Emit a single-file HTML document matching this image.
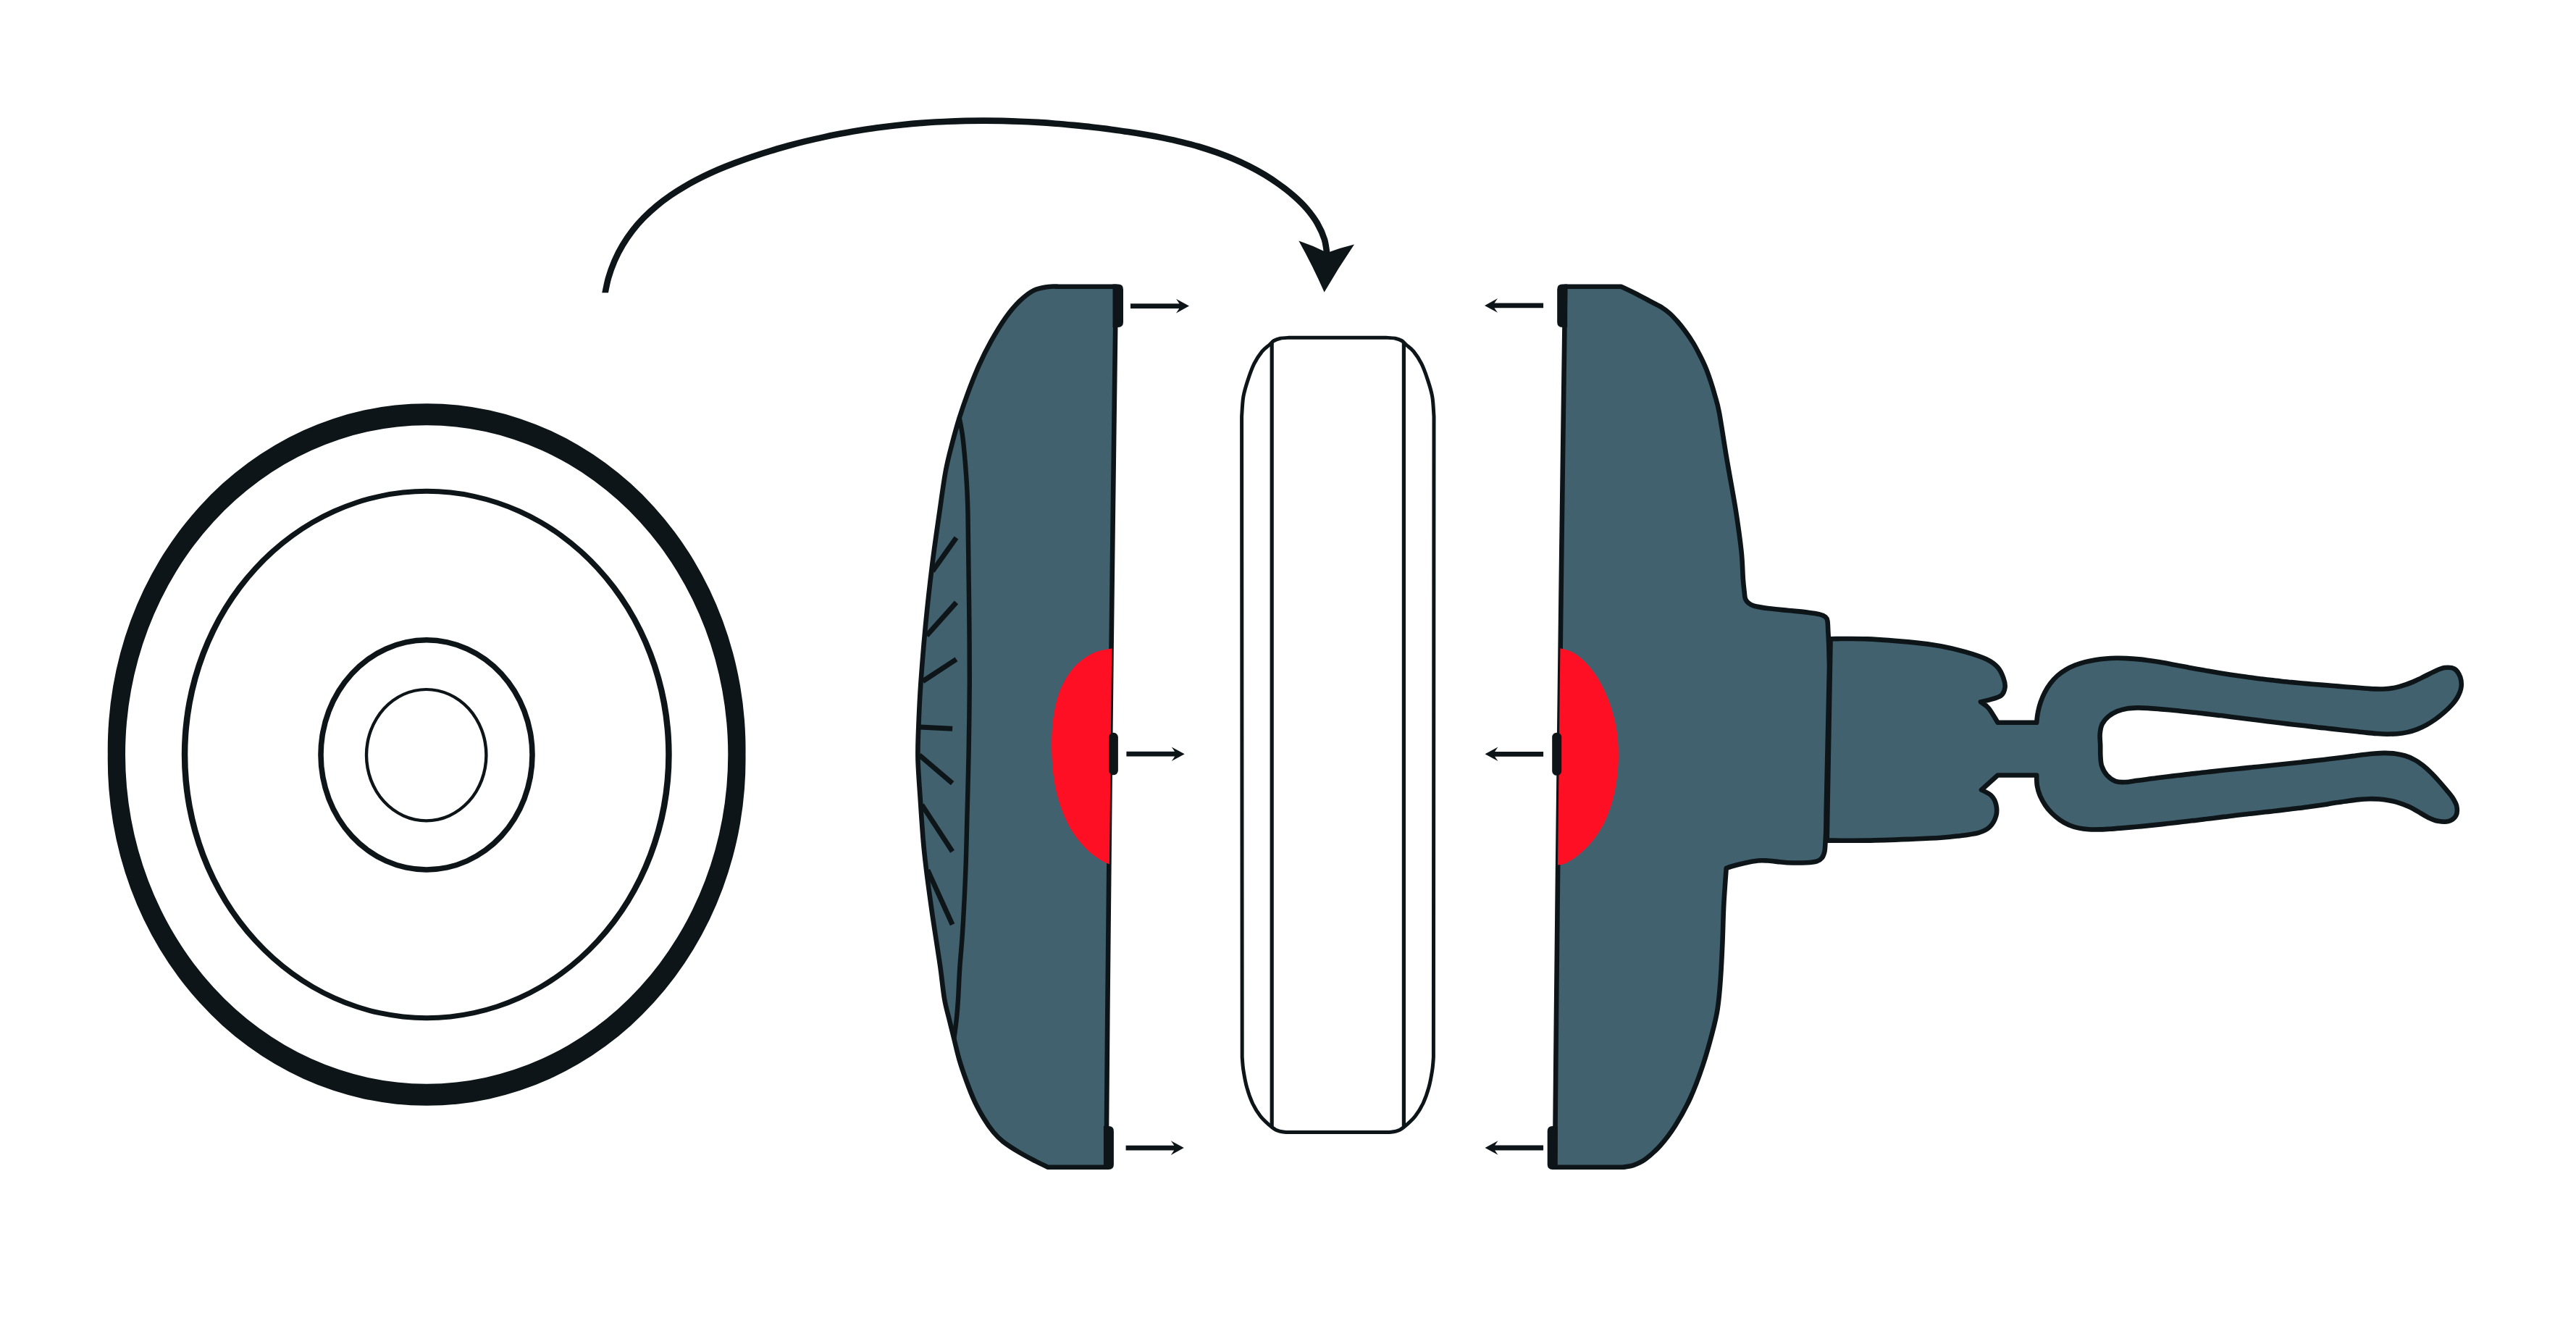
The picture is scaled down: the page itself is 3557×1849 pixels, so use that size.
<!DOCTYPE html>
<html>
<head>
<meta charset="utf-8">
<title>Diagram</title>
<style>
html,body{margin:0;padding:0;background:#ffffff;font-family:"Liberation Sans",sans-serif;}
body{width:3557px;height:1849px;overflow:hidden;}
svg{display:block;}
</style>
</head>
<body>
<svg width="3557" height="1849" viewBox="0 0 3557 1849">
<rect x="0" y="0" width="3557" height="1849" fill="#ffffff"/>
<path fill="#0e1518" fill-rule="evenodd" d="M148.8,1042 A440.4,477.6 0 1,0 1029.5,1042 A440.4,477.6 0 1,0 148.8,1042 Z M173,1042 A416.1,454.6 0 1,0 1005.3,1042 A416.1,454.6 0 1,0 173,1042 Z"/>
<path fill="#0e1518" fill-rule="evenodd" d="M250.8,1042 A338.4,367.1 0 1,0 927.7,1042 A338.4,367.1 0 1,0 250.8,1042 Z M259.3,1042 A329.9,360.2 0 1,0 919.2,1042 A329.9,360.2 0 1,0 259.3,1042 Z"/>
<path fill="#0e1518" fill-rule="evenodd" d="M439.2,1042.4 A149.8,162.2 0 1,0 738.8,1042.4 A149.8,162.2 0 1,0 439.2,1042.4 Z M446.8,1042.4 A142.2,154.8 0 1,0 731.2,1042.4 A142.2,154.8 0 1,0 446.8,1042.4 Z"/>
<path fill="#0e1518" fill-rule="evenodd" d="M503.8,1042.7 A84.9,92.8 0 1,0 673.6,1042.7 A84.9,92.8 0 1,0 503.8,1042.7 Z M508.2,1042.7 A80.5,88.6 0 1,0 669.2,1042.7 A80.5,88.6 0 1,0 508.2,1042.7 Z"/>
<clipPath id="arcclip"><rect x="700" y="100" width="1300" height="304.3"/></clipPath>
<path fill="none" stroke="#0e1518" stroke-width="8.6" clip-path="url(#arcclip)" d="M834.3,411 C835.2,406.6 837.6,393 839.9,384.5 C842.3,376.1 845.2,368.1 848.5,360.4 C851.8,352.7 855.5,345.4 859.7,338.5 C863.8,331.5 868.4,324.9 873.2,318.6 C878.1,312.3 883.4,306.3 889,300.6 C894.6,294.9 900.5,289.5 906.7,284.4 C912.8,279.2 919.3,274.4 926,269.8 C932.7,265.1 939.7,260.8 946.8,256.7 C953.9,252.5 961.3,248.6 968.7,244.9 C976.2,241.2 983.9,237.7 991.6,234.3 C999.3,231 1007.2,227.9 1015.2,224.9 C1023.1,221.9 1031.1,219 1039.2,216.3 C1047.2,213.6 1055.3,211 1063.4,208.6 C1071.4,206.1 1079.5,203.8 1087.6,201.5 C1095.7,199.3 1103.9,197.2 1112,195.2 C1120.1,193.2 1128.3,191.3 1136.4,189.6 C1144.5,187.8 1152.7,186.1 1160.9,184.6 C1169,183 1177.2,181.6 1185.4,180.2 C1193.6,178.9 1201.8,177.6 1210,176.5 C1218.2,175.4 1226.4,174.4 1234.6,173.4 C1242.8,172.5 1251,171.7 1259.2,170.9 C1267.5,170.2 1275.7,169.6 1284,169 C1292.2,168.5 1300.4,168 1308.7,167.7 C1317,167.3 1325.2,167.1 1333.5,166.9 C1341.7,166.7 1350,166.6 1358.3,166.6 C1366.6,166.6 1374.8,166.7 1383.1,166.9 C1391.4,167.1 1399.7,167.3 1408,167.7 C1416.3,168 1424.6,168.4 1432.9,168.9 C1441.2,169.4 1449.5,170 1457.8,170.7 C1466.1,171.3 1474.4,172.1 1482.7,172.9 C1491,173.7 1499.3,174.5 1507.6,175.5 C1515.9,176.4 1524.2,177.4 1532.5,178.5 C1540.8,179.6 1549.2,180.7 1557.5,182 C1565.8,183.2 1574.1,184.5 1582.3,186 C1590.6,187.4 1598.8,188.9 1607,190.6 C1615.2,192.3 1623.4,194.1 1631.4,196.1 C1639.5,198.1 1647.6,200.2 1655.5,202.5 C1663.5,204.9 1671.3,207.4 1679.1,210.1 C1686.9,212.9 1694.6,215.8 1702.2,219 C1709.8,222.2 1717.2,225.6 1724.6,229.4 C1731.9,233.1 1739.2,237.1 1746.2,241.3 C1753.3,245.6 1760.3,250.2 1767,255.1 C1773.8,260 1780.5,265.2 1786.8,270.8 C1793,276.3 1799.2,282.2 1804.6,288.5 C1809.9,294.8 1815,301.5 1819,308.5 C1823.1,315.6 1826.6,323.1 1829,331 C1831.3,338.9 1832.3,351.8 1833,356"/>
<path fill="#0e1518" d="M1793.3,332.5 Q1813,339 1832.7,349 Q1851,342 1870,337.5 Q1848.3,369.5 1828.6,403.5 Q1812.6,367 1793.3,332.5 Z"/>
<path fill="#41616e" stroke="#0e1518" stroke-width="6.6" stroke-linejoin="round" d="M1462,395.7 L1540.9,395.7 C1540.5,429.8 1539.1,532.6 1538.2,600 C1537.3,667.4 1536.5,733.3 1535.7,800 C1534.9,866.7 1534.1,933.3 1533.4,1000 C1532.7,1066.7 1532,1133.3 1531.3,1200 C1530.6,1266.7 1530,1331.4 1529.3,1400 C1528.7,1468.6 1527.8,1576.5 1527.5,1611.8 L1447.1,1611.8 C1444.1,1610.4 1436.1,1606.7 1429.4,1603.2 C1422.7,1599.7 1414.5,1595.5 1407,1591 C1399.5,1586.5 1390.5,1580.8 1384.6,1576.1 C1378.7,1571.4 1375.9,1568.3 1371.5,1563 C1367.1,1557.7 1362.8,1551.5 1358.4,1544.3 C1354.1,1537.1 1349.4,1528.8 1345.4,1520.1 C1341.4,1511.4 1337.6,1501.3 1334.2,1492 C1330.8,1482.7 1327.6,1473.6 1324.8,1464 C1322,1454.4 1319.6,1443.5 1317.3,1434.2 C1315,1424.9 1313,1417 1310.8,1408 C1308.6,1399 1306.2,1391.3 1304.2,1380 C1302.2,1368.7 1300.6,1351.8 1299,1340 C1297.4,1328.2 1296.5,1323.1 1294.4,1309 C1292.3,1294.9 1288.8,1273.1 1286.3,1255.2 C1283.8,1237.3 1281,1217.1 1279.1,1201.4 C1277.2,1185.7 1276.1,1176.7 1274.8,1161 C1273.5,1145.3 1272.2,1125.8 1271,1107.3 C1269.8,1088.8 1268,1067.2 1267.5,1050 C1267,1032.8 1267.6,1022 1268.3,1004 C1269,986 1269.8,965.9 1271.5,942.1 C1273.2,918.3 1275.6,888.3 1278.2,861.4 C1280.8,834.5 1283.9,806.8 1287.1,780.7 C1290.3,754.6 1294.5,726.6 1297.6,705 C1300.7,683.4 1302.9,666.1 1305.7,651 C1308.5,635.9 1311.1,626.4 1314.3,614.1 C1317.5,601.8 1321,589 1324.7,577.1 C1328.4,565.2 1332.1,554.5 1336.5,542.6 C1340.9,530.7 1346,517.6 1351.3,505.7 C1356.6,493.8 1362.3,482.3 1368.5,471.2 C1374.7,460.1 1381.7,448.4 1388.3,439.1 C1394.9,429.9 1401.4,422.1 1408,415.7 C1414.6,409.3 1421.1,404.2 1427.7,400.9 C1434.3,397.6 1441.7,396.8 1447.4,395.9 C1453.1,395 1459.6,395.7 1462,395.7 Z"/>
<path fill="none" stroke="#0e1518" stroke-width="6.4" d="M1324.7,577.1 C1325.4,581.2 1327.8,591.4 1329.1,601.7 C1330.4,612 1331.8,626.4 1332.8,638.7 C1333.8,651 1334.7,663.7 1335.3,675.6 C1335.9,687.5 1336.2,692.4 1336.5,709.9 C1336.8,727.4 1337.1,755.5 1337.4,780.7 C1337.7,806 1338.2,834.5 1338.4,861.4 C1338.6,888.3 1338.9,912.3 1338.8,942.1 C1338.7,971.9 1338.1,1010.2 1337.6,1040 C1337.1,1069.8 1336.3,1093.8 1335.6,1120.7 C1334.9,1147.6 1334.4,1174.5 1333.4,1201.4 C1332.4,1228.3 1330.8,1259.7 1329.4,1282.1 C1328.1,1304.5 1326.4,1319.6 1325.3,1335.9 C1324.2,1352.2 1323.8,1368 1323,1380 C1322.2,1392 1321.7,1399 1320.7,1408 C1319.8,1417 1317.9,1429.8 1317.3,1434.2"/>
<g stroke="#0e1518" stroke-width="7" fill="none">
<line x1="1287.7" y1="788.8" x2="1320.5" y2="742.5"/>
<line x1="1279.6" y1="877.6" x2="1320.5" y2="831.8"/>
<line x1="1274.2" y1="940.8" x2="1320.5" y2="910.4"/>
<line x1="1270.2" y1="1004" x2="1315.1" y2="1006.2"/>
<line x1="1269.4" y1="1042.7" x2="1315.1" y2="1081.7"/>
<line x1="1272.9" y1="1111.3" x2="1315.1" y2="1175.9"/>
<line x1="1280.9" y1="1201.4" x2="1315.1" y2="1276.8"/>
</g>
<path fill="#ff0f24" d="M1535.2,895.3 C1531.2,896.2 1518.6,898 1511.4,901 C1504.2,904 1497.5,908.6 1491.7,913.3 C1486,918 1481.4,922.9 1476.9,929.3 C1472.4,935.7 1467.9,943.3 1464.5,951.5 C1461.1,959.7 1458.6,969.2 1456.6,978.7 C1454.6,988.2 1453.4,998.4 1452.7,1008.3 C1452,1018.2 1452,1028 1452.2,1037.9 C1452.5,1047.8 1453,1057.6 1454.2,1067.5 C1455.4,1077.4 1457,1087.2 1459.6,1097.1 C1462.1,1107 1465.4,1117.2 1469.5,1126.7 C1473.6,1136.2 1478.5,1145.6 1484.3,1153.8 C1490,1162 1497.8,1170.2 1504,1176 C1510.2,1181.8 1516.6,1185.5 1521.3,1188.4 C1526,1191.3 1530.2,1192.5 1531.9,1193.3 Z"/>
<path fill="#0e1518" d="M1536.5,392.4 L1544,392.4 Q1551,392.4 1551,399.4 L1551,445 Q1551,452 1544,452 L1536.5,452 Z"/>
<rect x="1531.1" y="1011.8" width="12.8" height="58.4" rx="6" ry="6.4" fill="#0e1518"/>
<path fill="#0e1518" d="M1523.9,1555 L1530.9,1555 Q1537.9,1555 1537.9,1562 L1537.9,1608 Q1537.9,1615 1530.9,1615 L1523.9,1615 Z"/>
<line x1="1561" y1="422.6" x2="1632" y2="422.6" stroke="#0e1518" stroke-width="6.8"/>
<path fill="#0e1518" d="M1642,422.6 L1624,412.8 Q1629,419.6 1630,422.6 Q1629,425.6 1624,432.4 Z"/>
<line x1="1555.4" y1="1041.2" x2="1625.7" y2="1041.2" stroke="#0e1518" stroke-width="6.8"/>
<path fill="#0e1518" d="M1635.7,1041.2 L1617.7,1031.4 Q1622.7,1038.2 1623.7,1041.2 Q1622.7,1044.2 1617.7,1051 Z"/>
<line x1="1554.6" y1="1585.1" x2="1624.8" y2="1585.1" stroke="#0e1518" stroke-width="6.8"/>
<path fill="#0e1518" d="M1634.8,1585.1 L1616.8,1575.3 Q1621.8,1582.1 1622.8,1585.1 Q1621.8,1588.1 1616.8,1594.9 Z"/>
<line x1="2131.1" y1="421.9" x2="2060" y2="421.9" stroke="#0e1518" stroke-width="6.8"/>
<path fill="#0e1518" d="M2050,421.9 L2068,412.1 Q2063,418.9 2062,421.9 Q2063,424.9 2068,431.7 Z"/>
<line x1="2131.1" y1="1041.3" x2="2060.5" y2="1041.3" stroke="#0e1518" stroke-width="6.8"/>
<path fill="#0e1518" d="M2050.5,1041.3 L2068.5,1031.5 Q2063.5,1038.3 2062.5,1041.3 Q2063.5,1044.3 2068.5,1051.1 Z"/>
<line x1="2131.1" y1="1585" x2="2060.5" y2="1585" stroke="#0e1518" stroke-width="6.8"/>
<path fill="#0e1518" d="M2050.5,1585 L2068.5,1575.2 Q2063.5,1582 2062.5,1585 Q2063.5,1588 2068.5,1594.8 Z"/>
<path fill="#ffffff" stroke="#0e1518" stroke-width="5" stroke-linejoin="round" d="M1781,466.2 L1913.6,466.2 C1915.8,466.4 1922.9,466.5 1926.6,467.2 C1930.3,467.9 1933.1,469 1935.6,470.5 C1938.1,472 1938.9,473.5 1941.6,476 C1944.3,478.5 1948.5,481 1952,485.4 C1955.5,489.8 1959.6,495.7 1962.8,502.1 C1966,508.5 1968.6,516 1971.1,523.6 C1973.6,531.2 1976.2,538.9 1977.7,547.5 C1979.2,556.1 1979.6,570.4 1980,575 L1979.4,1459.9 C1979.1,1462.9 1978.8,1470.8 1977.7,1477.8 C1976.6,1484.8 1975,1494.1 1972.9,1501.7 C1970.8,1509.3 1968.3,1516.6 1965.2,1523.2 C1962.1,1529.8 1958.2,1536.1 1954.4,1541.1 C1950.6,1546.1 1946.1,1549.9 1942.5,1553.1 C1938.9,1556.3 1936.5,1558.5 1932.9,1560.2 C1929.3,1561.9 1925,1562.7 1921,1563.2 C1917,1563.8 1911,1563.5 1909,1563.5 L1785.6,1563.5 C1783.6,1563.5 1777.6,1563.8 1773.6,1563.2 C1769.6,1562.7 1765.3,1561.9 1761.7,1560.2 C1758.1,1558.5 1755.7,1556.3 1752.1,1553.1 C1748.5,1549.9 1744,1546.1 1740.2,1541.1 C1736.4,1536.1 1732.5,1529.8 1729.4,1523.2 C1726.3,1516.6 1723.8,1509.3 1721.7,1501.7 C1719.6,1494.1 1718,1484.8 1716.9,1477.8 C1715.8,1470.8 1715.5,1462.9 1715.2,1459.9 L1714.6,575 C1715,570.4 1715.4,556.1 1716.9,547.5 C1718.4,538.9 1721,531.2 1723.5,523.6 C1726,516 1728.6,508.5 1731.8,502.1 C1735,495.7 1739.1,489.8 1742.6,485.4 C1746.1,481 1750.3,478.5 1753,476 C1755.7,473.5 1756.5,472 1759,470.5 C1761.5,469 1764.3,467.9 1768,467.2 C1771.7,466.5 1778.8,466.4 1781,466.2 Z"/>
<path fill="none" stroke="#0e1518" stroke-width="5.2" d="M1756.2,473 L1756.2,1556 M1938.4,473 L1938.4,1556"/>
<path fill="#41616e" stroke="#0e1518" stroke-width="6.6" stroke-linejoin="round" d="M2527.6,882.2 C2536.1,882.2 2559.1,881.5 2578.6,882.4 C2598.1,883.3 2627.4,885.8 2644.3,887.4 C2661.2,889 2668.4,890.2 2680,892.3 C2691.6,894.4 2703.1,897.2 2713.6,900.2 C2724.1,903.2 2735.3,906.8 2742.8,910.3 C2750.3,913.8 2754.6,917.2 2758.5,921.5 C2762.4,925.8 2764.6,931.3 2766.3,936 C2768,940.7 2769.1,945.4 2768.5,949.5 C2767.9,953.6 2766.5,957.9 2762.9,960.7 C2759.3,963.5 2751.9,964.9 2747.2,966.3 C2742.5,967.7 2736.9,968.7 2734.9,969.2 C2736.8,970.7 2742.1,973.2 2746,978 C2749.9,982.8 2756.4,994.4 2758.5,997.7 L2812.2,997.7 C2812.5,995.4 2813,988.3 2814,983.7 C2814.9,979 2816.1,974.2 2817.7,969.6 C2819.3,965 2821.2,960.4 2823.5,956 C2825.7,951.7 2828.3,947.5 2831.2,943.7 C2834.1,939.9 2837.3,936.3 2840.9,933.1 C2844.4,930 2848.3,927.2 2852.4,924.8 C2856.5,922.3 2860.9,920.3 2865.3,918.5 C2869.8,916.8 2874.5,915.3 2879.2,914.1 C2883.9,912.9 2888.7,912 2893.5,911.2 C2898.3,910.4 2903.1,909.9 2907.9,909.5 C2912.7,909.1 2917.4,908.9 2922.2,908.8 C2927,908.7 2931.8,908.8 2936.5,909.1 C2941.3,909.3 2946,909.6 2950.8,910.1 C2955.5,910.5 2960.3,911.1 2965,911.7 C2969.8,912.3 2974.5,913.1 2979.3,913.8 C2984,914.6 2988.8,915.4 2993.5,916.3 C2998.2,917.2 3003,918.1 3007.7,919 C3012.5,919.8 3017.2,920.8 3021.9,921.7 C3026.7,922.6 3031.4,923.4 3036.1,924.3 C3040.9,925.2 3045.6,926 3050.3,926.8 C3055.1,927.6 3059.8,928.4 3064.6,929.2 C3069.3,929.9 3074,930.7 3078.8,931.4 C3083.5,932.2 3088.3,932.9 3093,933.5 C3097.8,934.2 3102.5,934.9 3107.3,935.5 C3112,936.2 3116.8,936.8 3121.5,937.4 C3126.3,938 3131,938.6 3135.8,939.1 C3140.5,939.7 3145.3,940.2 3150.1,940.7 C3154.8,941.2 3159.6,941.7 3164.4,942.1 C3169.1,942.6 3173.9,943 3178.7,943.5 C3183.5,943.9 3188.2,944.3 3193,944.7 C3197.8,945.1 3202.6,945.5 3207.4,945.9 C3212.2,946.3 3217,946.6 3221.7,947 C3226.5,947.4 3231.3,947.8 3236.1,948.2 C3240.9,948.5 3245.8,948.9 3250.6,949.3 C3255.4,949.7 3260.2,950.1 3265,950.5 C3269.8,950.9 3274.6,951.3 3279.4,951.4 C3284.2,951.6 3289,951.7 3293.8,951.3 C3298.5,951 3303.3,950.4 3307.9,949.4 C3312.6,948.4 3317.2,947 3321.8,945.4 C3326.3,943.9 3330.8,942 3335.2,940.1 C3339.6,938.1 3343.9,935.9 3348.2,933.8 C3352.5,931.7 3356.4,929.4 3360.9,927.5 C3365.4,925.5 3370.6,922.7 3375.3,922.1 C3380,921.5 3385.5,921.5 3389.2,923.6 C3392.8,925.8 3395.6,930.8 3397.2,935 C3398.7,939.2 3399,944.2 3398.5,948.7 C3398,953.1 3396.2,957.4 3394,961.6 C3391.9,965.7 3388.7,969.7 3385.5,973.4 C3382.2,977.2 3378.3,980.8 3374.5,984.1 C3370.7,987.4 3366.7,990.6 3362.7,993.4 C3358.7,996.2 3354.6,998.8 3350.4,1001.1 C3346.2,1003.4 3341.9,1005.4 3337.5,1007.1 C3333.2,1008.8 3328.7,1010.1 3324.2,1011.1 C3319.7,1012.2 3315,1012.8 3310.4,1013.2 C3305.7,1013.6 3300.9,1013.7 3296.2,1013.7 C3291.4,1013.6 3286.5,1013.3 3281.7,1013 C3276.9,1012.6 3272,1012.1 3267.1,1011.6 C3262.3,1011.1 3257.4,1010.6 3252.6,1010 C3247.7,1009.5 3242.9,1009 3238.1,1008.5 C3233.3,1008 3228.4,1007.4 3223.7,1006.9 C3218.9,1006.4 3214.1,1005.9 3209.3,1005.3 C3204.5,1004.8 3199.7,1004.3 3195,1003.7 C3190.2,1003.2 3185.4,1002.7 3180.7,1002.1 C3175.9,1001.6 3171.2,1001 3166.5,1000.5 C3161.7,999.9 3157,999.4 3152.2,998.8 C3147.5,998.2 3142.8,997.6 3138,997 C3133.3,996.4 3128.6,995.9 3123.9,995.3 C3119.1,994.7 3114.4,994.1 3109.7,993.5 C3104.9,992.9 3100.2,992.3 3095.5,991.7 C3090.7,991.1 3086,990.5 3081.3,989.9 C3076.5,989.3 3071.8,988.7 3067,988.1 C3062.3,987.6 3057.5,987 3052.8,986.4 C3048,985.9 3043.2,985.3 3038.4,984.8 C3033.6,984.2 3028.9,983.7 3024.1,983.2 C3019.3,982.7 3014.4,982.2 3009.6,981.7 C3004.8,981.2 3000,980.8 2995.1,980.3 C2990.3,979.9 2985.4,979.4 2980.5,979 C2975.6,978.6 2970.7,978.2 2965.9,977.9 C2961,977.6 2956.1,977.3 2951.3,977.4 C2946.5,977.5 2941.7,977.7 2937.1,978.5 C2932.4,979.3 2927.9,980.4 2923.6,982.1 C2919.3,983.9 2915,986.3 2911.5,989.2 C2908,992.1 2904.8,995.7 2902.8,999.8 C2900.8,1003.8 2900.1,1008.7 2899.7,1013.6 C2899.2,1018.5 2900.1,1024 2900.2,1029.1 C2900.3,1034.1 2900.1,1039.2 2900.4,1044 C2900.7,1048.8 2900.7,1053.4 2902.2,1057.9 C2903.7,1062.3 2906.2,1067 2909.4,1070.5 C2912.6,1074 2917,1077.3 2921.2,1078.9 C2925.5,1080.5 2930.4,1080.2 2935,1080 C2939.7,1079.9 2944.6,1078.8 2949.3,1078.1 C2954.1,1077.5 2958.9,1076.8 2963.7,1076.2 C2968.5,1075.6 2973.3,1075 2978.1,1074.3 C2982.9,1073.7 2987.7,1073.1 2992.5,1072.5 C2997.3,1071.9 3002.1,1071.4 3006.9,1070.8 C3011.7,1070.2 3016.5,1069.6 3021.3,1069.1 C3026.1,1068.5 3030.9,1068 3035.6,1067.5 C3040.4,1066.9 3045.2,1066.4 3049.9,1065.9 C3054.7,1065.4 3059.4,1064.8 3064.2,1064.3 C3068.9,1063.8 3073.7,1063.3 3078.4,1062.8 C3083.2,1062.3 3087.9,1061.9 3092.6,1061.4 C3097.4,1060.9 3102.1,1060.4 3106.8,1059.9 C3111.6,1059.4 3116.3,1058.9 3121,1058.5 C3125.8,1058 3130.5,1057.5 3135.3,1057 C3140,1056.5 3144.7,1056 3149.5,1055.5 C3154.2,1055 3159,1054.5 3163.7,1054 C3168.5,1053.5 3173.2,1053 3178,1052.5 C3182.7,1051.9 3187.5,1051.4 3192.3,1050.9 C3197.1,1050.3 3201.8,1049.8 3206.6,1049.2 C3211.4,1048.7 3216.2,1048.1 3221,1047.5 C3225.9,1046.9 3230.7,1046.3 3235.5,1045.7 C3240.3,1045.1 3245.2,1044.5 3250.1,1043.9 C3254.9,1043.2 3259.8,1042.5 3264.6,1042 C3269.5,1041.4 3274.4,1040.8 3279.2,1040.5 C3284,1040.1 3288.8,1039.8 3293.5,1039.9 C3298.2,1039.9 3302.8,1040.1 3307.4,1040.7 C3311.9,1041.3 3316.4,1042.2 3320.7,1043.5 C3325.1,1044.8 3329.3,1046.6 3333.4,1048.8 C3337.5,1050.9 3341.4,1053.7 3345.3,1056.7 C3349.1,1059.7 3352.8,1063.1 3356.4,1066.7 C3360.1,1070.2 3363.6,1074.1 3367,1077.9 C3370.4,1081.7 3373.8,1085.7 3377.1,1089.6 C3380.3,1093.4 3383.8,1097.2 3386.3,1101.1 C3388.8,1105 3391.3,1108.9 3392.2,1113.1 C3393,1117.3 3393.2,1122.8 3391.3,1126.3 C3389.4,1129.8 3384.9,1133 3380.8,1134.2 C3376.6,1135.4 3371.1,1134.7 3366.3,1133.8 C3361.4,1132.8 3356.3,1130.4 3351.8,1128.3 C3347.3,1126.1 3343.4,1123.4 3339.3,1121 C3335.2,1118.7 3331.3,1116.3 3327.1,1114.3 C3322.8,1112.3 3318.4,1110.5 3313.8,1109.1 C3309.2,1107.6 3304.5,1106.4 3299.7,1105.5 C3295,1104.6 3290.2,1103.9 3285.4,1103.5 C3280.6,1103.2 3275.8,1103.1 3271,1103.2 C3266.3,1103.3 3261.5,1103.7 3256.8,1104.1 C3252,1104.5 3247.2,1105.2 3242.5,1105.9 C3237.8,1106.5 3233,1107.3 3228.3,1108.1 C3223.5,1108.8 3218.8,1109.6 3214,1110.4 C3209.2,1111.1 3204.5,1111.8 3199.7,1112.5 C3194.9,1113.1 3190.2,1113.8 3185.4,1114.4 C3180.6,1115.1 3175.8,1115.7 3171.1,1116.3 C3166.3,1116.9 3161.5,1117.5 3156.7,1118 C3151.9,1118.6 3147.2,1119.1 3142.4,1119.7 C3137.6,1120.3 3132.8,1120.8 3128,1121.3 C3123.3,1121.9 3118.5,1122.4 3113.7,1123 C3108.9,1123.5 3104.2,1124 3099.4,1124.6 C3094.7,1125.1 3089.9,1125.7 3085.1,1126.2 C3080.4,1126.8 3075.6,1127.4 3070.9,1127.9 C3066.1,1128.5 3061.4,1129.1 3056.7,1129.7 C3051.9,1130.2 3047.2,1130.8 3042.4,1131.4 C3037.7,1132 3032.9,1132.6 3028.2,1133.1 C3023.4,1133.7 3018.7,1134.3 3014,1134.8 C3009.2,1135.4 3004.5,1135.9 2999.7,1136.5 C2994.9,1137 2990.2,1137.6 2985.4,1138.1 C2980.6,1138.6 2975.9,1139.1 2971.1,1139.6 C2966.3,1140.1 2961.5,1140.6 2956.7,1141.1 C2951.9,1141.5 2947.1,1142 2942.3,1142.4 C2937.5,1142.8 2932.7,1143.2 2927.8,1143.6 C2923,1144 2918.1,1144.4 2913.2,1144.7 C2908.4,1145 2903.5,1145.4 2898.7,1145.4 C2893.8,1145.5 2889,1145.6 2884.2,1145.2 C2879.5,1144.9 2874.8,1144.4 2870.2,1143.4 C2865.6,1142.4 2861.1,1141 2856.8,1139.2 C2852.5,1137.3 2848.2,1134.9 2844.3,1132.2 C2840.3,1129.5 2836.5,1126.3 2833.1,1122.8 C2829.7,1119.4 2826.5,1115.6 2823.9,1111.6 C2821.2,1107.5 2818.8,1103.2 2816.9,1098.8 C2815.1,1094.3 2813.7,1089.6 2812.9,1084.9 C2812.1,1080.2 2812.3,1072.9 2812.2,1070.5 L2758.5,1070.5 L2736,1090.7 C2738.2,1092 2746.1,1095.1 2749.5,1098.5 C2752.9,1101.9 2755.1,1106.2 2756.2,1110.9 C2757.3,1115.6 2757.7,1121.4 2756.2,1126.6 C2754.7,1131.8 2751.3,1138.3 2747.2,1142.2 C2743.1,1146.1 2739.1,1148 2731.6,1150.1 C2724.1,1152.2 2711,1153.5 2702.4,1154.6 C2693.8,1155.7 2689.7,1156.1 2680,1156.8 C2670.3,1157.5 2661.2,1157.9 2644.3,1158.5 C2627.4,1159.1 2598.9,1160.2 2578.6,1160.6 C2558.3,1160.9 2532,1160.6 2522.7,1160.6 L2527.6,882.2 Z"/>
<path fill="#41616e" stroke="#0e1518" stroke-width="6.6" stroke-linejoin="round" d="M2161.2,395.7 L2238.5,395.7 C2242.1,397.4 2253.3,402.6 2260.3,406.2 C2267.3,409.8 2274.7,413.9 2280.5,417 C2286.3,420.1 2291.1,422.3 2295.3,425 C2299.6,427.7 2302.4,429.9 2306,433.1 C2309.6,436.4 2313.2,440.4 2316.8,444.5 C2320.4,448.6 2323.9,453.1 2327.5,458 C2331.1,462.9 2334.9,468.5 2338.3,474.1 C2341.7,479.7 2344.8,485.8 2347.7,491.6 C2350.6,497.4 2353.3,503 2355.8,509 C2358.3,515 2360.5,521.8 2362.5,527.8 C2364.5,533.8 2365.9,538.3 2367.8,545.3 C2369.7,552.3 2371.3,555.6 2374,570 C2376.7,584.4 2380.2,608.7 2384,631.4 C2387.8,654.1 2393.6,684.2 2397,706 C2400.4,727.8 2402.9,746.3 2404.6,762 C2406.2,777.7 2406.2,790.7 2406.9,800 C2407.6,809.3 2408.2,813.4 2408.7,817.9 C2409.2,822.4 2409.1,824.5 2410,826.9 C2410.9,829.3 2412,830.7 2414,832.3 C2416,833.9 2417.3,835.4 2422.1,836.7 C2426.9,838 2434.8,839.2 2442.7,840.3 C2450.6,841.3 2460.6,842.1 2469.6,843 C2478.6,843.9 2489.3,844.8 2496.5,845.7 C2503.7,846.6 2508.6,847.4 2512.6,848.4 C2516.6,849.4 2518.9,850.5 2520.7,852 C2522.5,853.5 2522.8,854 2523.4,857.3 C2524,860.6 2524,866.3 2524.3,871.7 C2524.6,877.1 2524.9,881.6 2525.2,889.6 C2525.5,897.6 2525.9,914.9 2526,920 L2521.7,1120 C2521.6,1124.5 2521.5,1139.4 2521.3,1146.9 C2521.1,1154.4 2520.7,1160 2520.4,1164.8 C2520.1,1169.6 2520.2,1172.3 2519.5,1175.6 C2518.8,1178.9 2517.7,1182.2 2515.9,1184.5 C2514.1,1186.8 2512.3,1188.3 2508.7,1189.4 C2505.1,1190.5 2501.3,1190.9 2494.4,1191.2 C2487.5,1191.5 2474.2,1191.4 2467.5,1191.2 C2460.8,1191 2458.6,1190.4 2454.1,1189.9 C2449.6,1189.5 2445.1,1188.7 2440.6,1188.5 C2436.1,1188.3 2432.4,1188 2427.2,1188.5 C2422,1189 2415.3,1190.4 2409.3,1191.7 C2403.3,1193 2395.7,1195 2391.4,1196.2 C2387.1,1197.4 2385,1198.5 2383.7,1198.9 C2383.1,1207.2 2381.2,1231.8 2380.3,1248.7 C2379.4,1265.6 2379.2,1283 2378.5,1300.2 C2377.8,1317.4 2376.9,1336.2 2375.8,1351.7 C2374.7,1367.2 2373.6,1380.3 2371.7,1392.9 C2369.8,1405.5 2367.5,1414.1 2364.1,1427.2 C2360.7,1440.3 2356.1,1456.9 2351.1,1471.8 C2346.1,1486.7 2340.2,1502.8 2333.9,1516.5 C2327.6,1530.2 2320.2,1543.3 2313.3,1554.2 C2306.4,1565.1 2299.6,1574 2292.7,1581.7 C2285.8,1589.4 2278.2,1596.1 2272.1,1600.6 C2266,1605.1 2261.2,1606.9 2256,1608.8 C2250.8,1610.7 2243.7,1611.3 2241.2,1611.8 L2147,1611.8 C2147.3,1576.5 2148.3,1468.6 2149,1400 C2149.7,1331.4 2150.4,1266.7 2151.1,1200 C2151.9,1133.3 2152.6,1066.7 2153.4,1000 C2154.2,933.3 2155,866.7 2155.8,800 C2156.7,733.3 2157.5,667.4 2158.4,600 C2159.3,532.6 2160.8,429.8 2161.2,395.7 Z"/>
<path fill="#ff0f24" d="M2154.4,895.3 C2157.4,896.2 2166.1,897.8 2171.9,901 C2177.7,904.2 2183.4,908.5 2189.2,914.5 C2195,920.5 2201.4,928.5 2206.5,936.7 C2211.6,944.9 2216.3,954.9 2220,963.9 C2223.7,972.9 2226.4,982 2228.7,991 C2231,1000 2232.6,1008.6 2233.6,1018.1 C2234.6,1027.5 2235,1037.8 2234.8,1047.7 C2234.6,1057.6 2233.8,1067.4 2232.4,1077.3 C2231,1087.2 2229.1,1097 2226.2,1106.9 C2223.3,1116.8 2219.6,1127.5 2215.1,1136.5 C2210.6,1145.5 2205.1,1153.8 2199.1,1161.2 C2193.1,1168.6 2185.5,1175.8 2179.3,1180.9 C2173.1,1186 2166.8,1189.7 2162.1,1192 C2157.4,1194.3 2152.8,1194.1 2151,1194.5 Z"/>
<path fill="#0e1518" d="M2164.2,392.4 L2157.2,392.4 Q2150.2,392.4 2150.2,399.4 L2150.2,445 Q2150.2,452 2157.2,452 L2164.2,452 Z"/>
<rect x="2143.2" y="1011.7" width="13" height="59.1" rx="6" ry="6.4" fill="#0e1518"/>
<path fill="#0e1518" d="M2150.7,1555 L2143.7,1555 Q2136.7,1555 2136.7,1562 L2136.7,1608 Q2136.7,1615 2143.7,1615 L2150.7,1615 Z"/>
</svg>
</body>
</html>
